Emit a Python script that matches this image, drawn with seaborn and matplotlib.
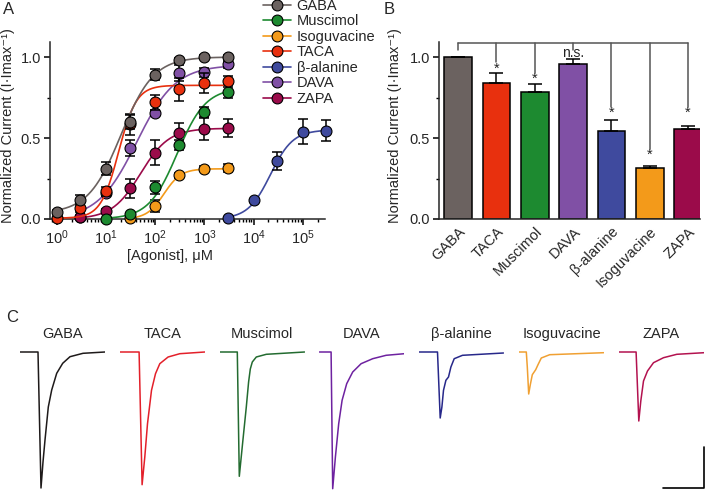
import matplotlib
matplotlib.use("Agg")
import matplotlib.pyplot as plt
from matplotlib.lines import Line2D
from matplotlib.ticker import LogLocator, FixedLocator, FormatStrFormatter, NullFormatter
import numpy as np
import seaborn as sns

# ---- panel A: concentration-response data (mean, SEM) ----
gaba_dose = [1, 3, 10, 30, 100, 300, 1000, 3000]
gaba_resp = [0.045, 0.12, 0.31, 0.60, 0.89, 0.98, 1.0, 1.0]
gaba_sem = [0.01, 0.03, 0.04, 0.045, 0.035, 0.015, 0.01, 0.01]

taca_dose = [1, 3, 10, 30, 100, 300, 1000, 3000]
taca_resp = [0.005, 0.065, 0.17, 0.585, 0.72, 0.80, 0.84, 0.85]
taca_sem = [0.01, 0.02, 0.03, 0.065, 0.045, 0.07, 0.06, 0.035]

dava_dose = [3, 10, 30, 100, 300, 1000, 3000]
dava_resp = [0.01, 0.16, 0.44, 0.655, 0.90, 0.905, 0.955]
dava_sem = [0.01, 0.02, 0.05, 0.02, 0.05, 0.03, 0.02]

musc_dose = [10, 30, 100, 300, 1000, 3000]
musc_resp = [0.0, 0.03, 0.195, 0.455, 0.66, 0.785]
musc_sem = [0.005, 0.01, 0.04, 0.03, 0.03, 0.04]

isog_dose = [30, 100, 300, 1000, 3000]
isog_resp = [0.005, 0.08, 0.27, 0.31, 0.315]
isog_sem = [0.005, 0.035, 0.015, 0.015, 0.025]

zapa_dose = [3, 10, 30, 100, 300, 1000, 3000]
zapa_resp = [0.012, 0.05, 0.19, 0.41, 0.53, 0.555, 0.56]
zapa_sem = [0.005, 0.01, 0.06, 0.075, 0.065, 0.07, 0.055]

bala_dose = [3000, 10000, 30000, 100000, 300000]
bala_resp = [0.005, 0.115, 0.36, 0.54, 0.545]
bala_sem = [0.005, 0.01, 0.055, 0.08, 0.065]

# Hill fit parameters: bottom, top, EC50 (uM), nH
gaba_fit = (0.035, 1.0, 20, 1.3)
taca_fit = (0.005, 0.825, 18, 2.4)
dava_fit = (0.0, 0.95, 42, 1.1)
musc_fit = (0.0, 0.81, 280, 1.5)
isog_fit = (0.0, 0.31, 150, 2.5)
zapa_fit = (0.0, 0.56, 50, 1.5)
bala_fit = (0.0, 0.55, 22000, 1.9)

# ---- panel B: maximal responses ----
agonists_b = ["GABA", "TACA", "Muscimol", "DAVA", "β-alanine", "Isoguvacine", "ZAPA"]
max_b = [1.0, 0.84, 0.785, 0.955, 0.545, 0.317, 0.553]
sem_b = [0.0, 0.06, 0.048, 0.035, 0.065, 0.013, 0.023]
sig_b = ["", "*", "*", "n.s.", "*", "*", "*"]
sig_y = [1.043, 0.93, 0.863, 1.025, 0.653, 0.395, 0.653]

# ---- panel C: example current traces (time a.u., current a.u.) ----
gaba_t = [0, 18, 21, 23, 25, 28.3, 31.7, 36.7, 42.7, 50, 63, 85]
gaba_i = [0, 0, -136, -110, -88, -55, -38, -21.3, -11.3, -4.7, -1.3, 0]
taca_t = [0, 19.3, 22.3, 25, 27.7, 31.7, 35.7, 40, 48.3, 60, 85]
taca_i = [0, 0, -132.7, -105, -71.7, -38.3, -21.7, -11.7, -5, -1.7, 0]
musc_t = [0, 17.7, 19.7, 23.3, 26.7, 29, 30.7, 32.7, 36.7, 46.7, 85]
musc_i = [0, 0, -124.3, -88.3, -55, -30, -17, -10, -5, -2.3, 0]
dava_t = [0, 11.7, 13.3, 16, 19.3, 22.7, 27.3, 33.3, 41.7, 53.3, 66.7, 85]
dava_i = [0, 0, -136.7, -105, -71.7, -48.3, -31.7, -20, -11.7, -6.7, -3.3, -1.7]
bala_t = [0, 18.3, 21, 22.7, 24.3, 26.7, 29.3, 31.7, 35, 43.3, 84.3]
bala_i = [0, 0, -66, -55, -38.3, -28.3, -25, -15, -6.7, -3.3, -1]
isog_t = [0, 7.3, 8.3, 9.7, 11.3, 13.3, 16.7, 19, 22.3, 30.7, 84.7]
isog_i = [0, 0, -15, -42, -32.7, -22.7, -17.7, -12.7, -6, -2.7, -0.7]
zapa_t = [0, 17.3, 20, 22, 24.7, 28.7, 34.7, 44.7, 58, 85.3]
zapa_i = [0, 0, -69, -49, -29, -19, -10.7, -5.7, -2.3, -0.7]

colors = {
    "GABA": "#6b6260", "Muscimol": "#1d8a30", "Isoguvacine": "#f39a1a",
    "TACA": "#e8300e", "β-alanine": "#3f4a9e", "DAVA": "#8050a5", "ZAPA": "#9b0b4a",
}
trace_colors = {
    "GABA": "#1e1a1a", "TACA": "#e3202a", "Muscimol": "#236b30", "DAVA": "#6e22a0",
    "β-alanine": "#27288a", "Isoguvacine": "#f0a032", "ZAPA": "#b3124f",
}

sns.set_theme(style="ticks")
plt.rcParams["font.family"] = ["Liberation Sans", "DejaVu Sans"]
plt.rcParams["mathtext.fontset"] = "custom"
plt.rcParams["mathtext.rm"] = "Liberation Sans"
plt.rcParams["mathtext.it"] = "Liberation Sans:italic"
plt.rcParams["axes.linewidth"] = 1.1

W, H = 709, 491
fig = plt.figure(figsize=(W / 100, H / 100), dpi=100)


def box(x0, y_top, x1, y_bot):
    return [x0 / W, 1 - y_bot / H, (x1 - x0) / W, (y_bot - y_top) / H]


def hill(x, p):
    b, t, ec, n = p
    return b + (t - b) * x ** n / (x ** n + ec ** n)


# ---------------- panel A ----------------
axA = fig.add_axes(box(50, 42, 325, 219))
series = [
    ("DAVA", dava_dose, dava_resp, dava_sem, dava_fit),
    ("ZAPA", zapa_dose, zapa_resp, zapa_sem, zapa_fit),
    ("Isoguvacine", isog_dose, isog_resp, isog_sem, isog_fit),
    ("Muscimol", musc_dose, musc_resp, musc_sem, musc_fit),
    ("β-alanine", bala_dose, bala_resp, bala_sem, bala_fit),
    ("TACA", taca_dose, taca_resp, taca_sem, taca_fit),
    ("GABA", gaba_dose, gaba_resp, gaba_sem, gaba_fit),
]
for z, (name, dose, resp, sem, fit) in enumerate(series):
    xx = np.logspace(np.log10(dose[0]), np.log10(dose[-1]), 200)
    sns.lineplot(x=xx, y=hill(xx, fit), ax=axA, color=colors[name], lw=1.2, zorder=2 + z * 3)
    axA.errorbar(dose, resp, yerr=sem, fmt="none", ecolor="black", elinewidth=1.1,
                 capsize=3.8, capthick=1.1, zorder=3 + z * 3, clip_on=False)
    sns.scatterplot(x=dose, y=resp, ax=axA, color=colors[name], s=62, edgecolor="black",
                    linewidth=0.8, zorder=4 + z * 3)
    axA.collections[-1].set_clip_on(False)

axA.set_xscale("log")
axA.set_xlim(10 ** -0.14, 10 ** 5.45)
axA.set_ylim(0, 1.0926)
axA.xaxis.set_major_locator(LogLocator(base=10, numticks=12))
axA.xaxis.set_minor_locator(LogLocator(base=10, subs=np.arange(2, 10), numticks=12))
axA.xaxis.set_minor_formatter(NullFormatter())
axA.yaxis.set_major_locator(FixedLocator([0, 0.5, 1.0]))
axA.yaxis.set_minor_locator(FixedLocator([0.25, 0.75]))
axA.yaxis.set_major_formatter(FormatStrFormatter("%.1f"))
axA.tick_params(which="major", length=4.5, width=1.1, labelsize=10.5, color="black", pad=2)
axA.tick_params(which="minor", length=2.5, width=1.0, color="black")
axA.set_xlabel("[Agonist], μM", fontsize=10.5)
axA.xaxis.set_label_coords(0.436, -0.17)
axA.set_ylabel("Normalized Current (I·Imax⁻¹)", fontsize=10.5)
axA.yaxis.set_label_coords(-0.127, 0.53)
sns.despine(ax=axA)

legend_order = ["GABA", "Muscimol", "Isoguvacine", "TACA", "β-alanine", "DAVA", "ZAPA"]
handles = [Line2D([], [], color=colors[n], lw=1.2, marker="o", markersize=7.8,
                  markerfacecolor=colors[n], markeredgecolor="black", markeredgewidth=0.8)
           for n in legend_order]
fig.legend(handles, legend_order, loc="upper left", bbox_to_anchor=(263 / W, 1 + 1 / H),
           frameon=False, fontsize=10.5, handlelength=1.9, handletextpad=0.4,
           labelspacing=0.1, borderpad=0, borderaxespad=0)

# ---------------- panel B ----------------
axB = fig.add_axes(box(439, 42, 700, 219))
sns.barplot(x=agonists_b, y=max_b, hue=agonists_b, palette=[colors[n] for n in agonists_b],
            ax=axB, width=0.72, edgecolor="black", linewidth=1.1, legend=False, saturation=1)
pos = np.arange(len(agonists_b))
axB.errorbar(pos, max_b, yerr=[np.zeros(len(sem_b)), sem_b], fmt="none", ecolor="black",
             elinewidth=1.1, capsize=5, capthick=1.1, zorder=1)
bracket_y = 1.086
axB.plot([pos[0], pos[-1]], [bracket_y, bracket_y], color="#555555", lw=1.1, clip_on=False)
for k in pos:
    top = sig_y[k] + (0.0 if k == 0 else 0.04)
    if sig_b[k] == "n.s.":
        top = sig_y[k] + 0.02
    axB.plot([k, k], [bracket_y, top], color="#555555", lw=1.1, clip_on=False)
    if sig_b[k] == "*":
        axB.text(k, sig_y[k], "*", ha="center", va="center", fontsize=10.5, color="#222222")
    elif sig_b[k]:
        axB.text(k, sig_y[k], sig_b[k], ha="center", va="center", fontsize=10, color="#222222")
axB.set_xlim(-0.5, 6.31)
axB.set_ylim(0, 1.0926)
axB.yaxis.set_major_locator(FixedLocator([0, 0.5, 1.0]))
axB.yaxis.set_minor_locator(FixedLocator([0.25, 0.75]))
axB.yaxis.set_major_formatter(FormatStrFormatter("%.1f"))
axB.tick_params(axis="y", which="major", length=4.5, width=1.1, labelsize=10.5, color="black", pad=2)
axB.tick_params(axis="y", which="minor", length=2.5, width=1.0, color="black")
axB.tick_params(axis="x", length=0, labelsize=10.5, pad=4)
for lab in axB.get_xticklabels():
    lab.set_rotation(45)
    lab.set_ha("right")
    lab.set_rotation_mode("anchor")
axB.set_ylabel("Normalized Current (I·Imax⁻¹)", fontsize=10.5)
axB.yaxis.set_label_coords(-0.142, 0.53)
sns.despine(ax=axB)

# ---------------- panel C ----------------
traces = [
    ("GABA", gaba_t, gaba_i), ("TACA", taca_t, taca_i), ("Muscimol", musc_t, musc_i),
    ("DAVA", dava_t, dava_i), ("β-alanine", bala_t, bala_i),
    ("Isoguvacine", isog_t, isog_i), ("ZAPA", zapa_t, zapa_i),
]
for k, (name, t, cur) in enumerate(traces):
    x0 = 20 + k * 99.8
    ax = fig.add_axes(box(x0, 345, x0 + 85, 491))
    sns.lineplot(x=t, y=cur, ax=ax, color=trace_colors[name], lw=1.1, sort=False, estimator=None)
    ax.set_xlim(0, 85)
    ax.set_ylim(-139, 7)
    ax.set_title(name, fontsize=10.5, pad=5)
    ax.axis("off")
    if k == len(traces) - 1:
        ax.plot([85.3, 85.3, 44], [-95.3, -136.3, -136.3], color="black", lw=1.2, clip_on=False)

fig.text(3 / W, 1 - 10 / H, "A", fontsize=12, va="center", ha="left")
fig.text(384 / W, 1 - 10 / H, "B", fontsize=12, va="center", ha="left")
fig.text(6 / W, 1 - 318 / H, "C", fontsize=12, va="center", ha="left")

fig.savefig("out.png", dpi=100)
